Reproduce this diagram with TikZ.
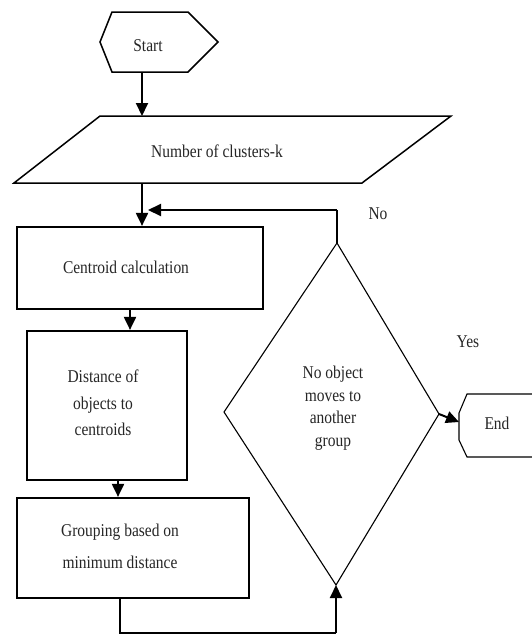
\documentclass[tikz,border=0pt]{standalone}
\usepackage{fontspec}
\setmainfont{Liberation Serif}[FakeStretch=0.86]
\usetikzlibrary{arrows.meta}
\begin{document}
\begin{tikzpicture}[x=1pt,y=-1pt,
  txt/.style={text=black!85, inner sep=0pt, align=center, font=\fontsize{18}{20}\selectfont},
  box/.style={draw, line width=2.2pt, inner sep=0pt},
  arr/.style={line width=2pt, -{Triangle[length=13pt,width=12pt]}},
  thinline/.style={line width=1.1pt},
  midline/.style={line width=1.5pt}]
\useasboundingbox (0,0) rectangle (531,635);
\fill[white] (0,0) rectangle (531,635);

% Start
\draw[midline] (100,42) -- (112,12) -- (188,12) -- (218,42) -- (188,72) -- (112,72) -- cycle;
\node[txt] (start) at (148,46) {Start};
\coordinate (startS) at (142,72);

% Input parallelogram
\draw[midline] (100,116) -- (451,116) -- (362,183) -- (14,183) -- cycle;
\node[txt] (input) at (217,151) {Number of clusters-k};
\coordinate (inN) at (142,116);
\coordinate (inS) at (142,183);

% Centroid calculation
\node[box, minimum width=246pt, minimum height=82pt] (cent) at (140,268) {};
\node[txt] (centT) at (126,267) {Centroid calculation};
\coordinate (centS) at (130,309);

% Distance
\node[box, minimum width=160pt, minimum height=149pt] (dist) at (107,405.5) {};
\node[txt, font=\fontsize{18}{26.5}\selectfont] (distT) at (103,403) {Distance of\\objects to\\centroids};
\coordinate (distS) at (118,480);

% Grouping
\node[box, minimum width=232pt, minimum height=100pt] (grp) at (133,548) {};
\node[txt, font=\fontsize{18}{32}\selectfont] (grpT) at (120,546) {Grouping based on\\minimum distance};
\coordinate (grpS) at (120,598);
\coordinate (bl) at (120,633);
\coordinate (br) at (336,633);

% Decision diamond
\coordinate (diaN) at (337,243);
\coordinate (diaE) at (439,414);
\coordinate (diaS) at (336,585);
\coordinate (diaW) at (224,412);
\draw[thinline] (diaN) -- (diaE) -- (diaS) -- (diaW) -- cycle;
\node[txt, font=\fontsize{18}{22.5}\selectfont] (diaT) at (333,408) {No object\\moves to\\another\\group};
\coordinate (fbTop) at (337,210);
\coordinate (fbEnd) at (148,210);

% End
\draw[thinline] (545,394) -- (467,394) -- (459,413) -- (459,440) -- (467,457) -- (545,457);
\node[txt] (endT) at (497,423) {End};
\coordinate (endW) at (459,422);

% Labels
\node[txt] (no) at (378,214) {No};
\node[txt] (yes) at (468,342) {Yes};

% Connectors
\draw[arr] (startS) -- (inN);
\draw[arr] (inS) -- (inS |- cent.north);
\draw[arr] (centS) -- (centS |- dist.north);
\draw[arr] (distS) -- (distS |- grp.north);
\draw[thinline] (grpS) -- (bl) -- (br);
\draw[arr] (br) -- (diaS);
\draw[line width=2pt] (diaN) -- (fbTop);
\draw[arr] (fbTop) -- (fbEnd);
\draw[arr] (diaE) -- (endW);
\end{tikzpicture}
\end{document}
